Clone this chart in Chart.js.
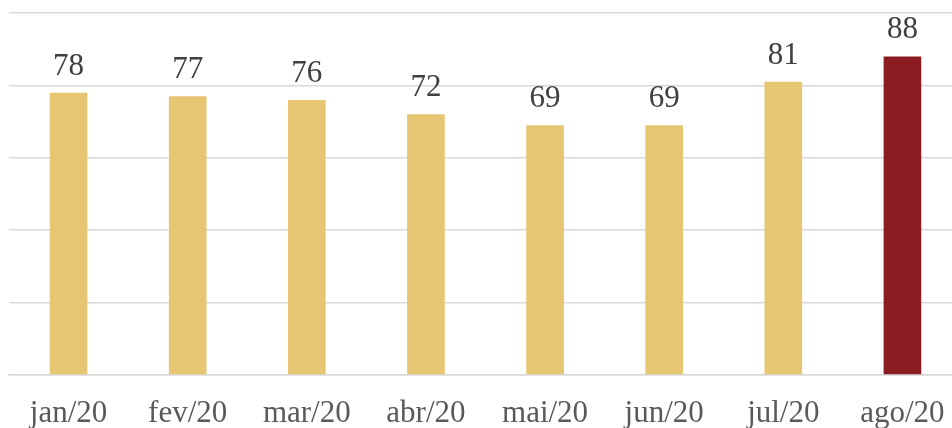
<!DOCTYPE html>
<html><head><meta charset="utf-8">
<script src="https://cdn.jsdelivr.net/npm/chart.js@4/dist/chart.umd.min.js"></script>
<style>html,body{margin:0;padding:0;overflow:hidden;background:#fff}#wrap{width:962px;height:428px;position:relative}</style>
</head><body><div id="wrap"><canvas id="c"></canvas></div>
<script>
const categories = ["jan/20","fev/20","mar/20","abr/20","mai/20","jun/20","jul/20","ago/20"];
const values = [78,77,76,72,69,69,81,88];
const barColors = ["#E6C573","#E6C573","#E6C573","#E6C573","#E6C573","#E6C573","#E6C573","#8B1C21"];
const yTicks = [0,20,40,60,80,100];

const labelPlugin = {
  id:'barLabels',
  afterDatasetsDraw(chart){
    const ctx = chart.ctx;
    const meta = chart.getDatasetMeta(0);
    ctx.save();
    ctx.font = '31px "Liberation Serif", "Times New Roman", serif';
    ctx.fillStyle = '#404040';
    ctx.textAlign = 'center';
    ctx.textBaseline = 'alphabetic';
    meta.data.forEach((bar,i)=>{
      ctx.fillText(String(values[i]), bar.x, bar.y - 18);
    });
    ctx.restore();
  }
};

new Chart(document.getElementById('c'), {
  type:'bar',
  data:{labels:categories, datasets:[{data:values, backgroundColor:barColors, categoryPercentage:1, barPercentage:0.316}]},
  options:{
    responsive:true, maintainAspectRatio:false, animation:false,
    layout:{padding:{left:9, top:13, right:0, bottom:0}},
    plugins:{legend:{display:false}, tooltip:{enabled:false}},
    scales:{
      x:{
        grid:{display:false},
        border:{display:true, color:'#d9d9d9', width:1.5},
        ticks:{color:'#595959', font:{family:'"Liberation Serif", "Times New Roman", serif', size:31}, padding:12, maxRotation:0, autoSkip:false},
        afterFit(s){ s.height = 53; }
      },
      y:{
        min:0, max:100,
        afterBuildTicks(s){ s.ticks = yTicks.map(v=>({value:v})); },
        ticks:{display:false},
        border:{display:false},
        grid:{color:'#d9d9d9', lineWidth:1.5, drawTicks:false},
        afterFit(s){ s.width = 0; }
      }
    }
  },
  plugins:[labelPlugin]
});
</script></body></html>
